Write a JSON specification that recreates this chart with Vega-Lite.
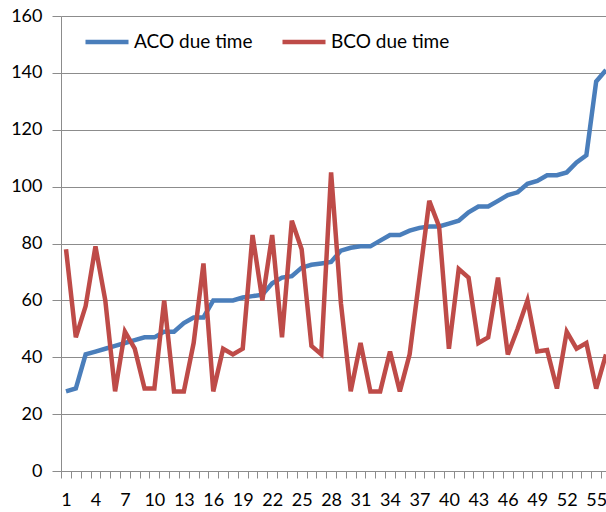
{
  "$schema": "https://vega.github.io/schema/vega-lite/v6.json",
  "autosize": {"type": "none"},
  "padding": {"left": 61, "top": 16, "right": 0, "bottom": 41},
  "width": 545,
  "height": 455,
  "background": "white",
  "config": {
    "view": {"stroke": null},
    "font": "Lato"
  },
  "data": {
    "values": [
      {"x":1,"s":"ACO due time","v":28},{"x":2,"s":"ACO due time","v":29},{"x":3,"s":"ACO due time","v":41},{"x":4,"s":"ACO due time","v":42},{"x":5,"s":"ACO due time","v":43},{"x":6,"s":"ACO due time","v":44},{"x":7,"s":"ACO due time","v":45},{"x":8,"s":"ACO due time","v":46},{"x":9,"s":"ACO due time","v":47},{"x":10,"s":"ACO due time","v":47},
      {"x":11,"s":"ACO due time","v":49},{"x":12,"s":"ACO due time","v":49},{"x":13,"s":"ACO due time","v":52},{"x":14,"s":"ACO due time","v":54},{"x":15,"s":"ACO due time","v":54},{"x":16,"s":"ACO due time","v":60},{"x":17,"s":"ACO due time","v":60},{"x":18,"s":"ACO due time","v":60},{"x":19,"s":"ACO due time","v":61},{"x":20,"s":"ACO due time","v":61.5},
      {"x":21,"s":"ACO due time","v":62},{"x":22,"s":"ACO due time","v":66},{"x":23,"s":"ACO due time","v":68},{"x":24,"s":"ACO due time","v":68.5},{"x":25,"s":"ACO due time","v":71.5},{"x":26,"s":"ACO due time","v":72.5},{"x":27,"s":"ACO due time","v":73},{"x":28,"s":"ACO due time","v":73.5},{"x":29,"s":"ACO due time","v":77.5},{"x":30,"s":"ACO due time","v":78.5},
      {"x":31,"s":"ACO due time","v":79},{"x":32,"s":"ACO due time","v":79},{"x":33,"s":"ACO due time","v":81},{"x":34,"s":"ACO due time","v":83},{"x":35,"s":"ACO due time","v":83},{"x":36,"s":"ACO due time","v":84.5},{"x":37,"s":"ACO due time","v":85.5},{"x":38,"s":"ACO due time","v":86},{"x":39,"s":"ACO due time","v":86},{"x":40,"s":"ACO due time","v":87},
      {"x":41,"s":"ACO due time","v":88},{"x":42,"s":"ACO due time","v":91},{"x":43,"s":"ACO due time","v":93},{"x":44,"s":"ACO due time","v":93},{"x":45,"s":"ACO due time","v":95},{"x":46,"s":"ACO due time","v":97},{"x":47,"s":"ACO due time","v":98},{"x":48,"s":"ACO due time","v":101},{"x":49,"s":"ACO due time","v":102},{"x":50,"s":"ACO due time","v":104},
      {"x":51,"s":"ACO due time","v":104},{"x":52,"s":"ACO due time","v":105},{"x":53,"s":"ACO due time","v":108.5},{"x":54,"s":"ACO due time","v":111},{"x":55,"s":"ACO due time","v":137},{"x":56,"s":"ACO due time","v":141},
      {"x":1,"s":"BCO due time","v":78},{"x":2,"s":"BCO due time","v":47},{"x":3,"s":"BCO due time","v":58},{"x":4,"s":"BCO due time","v":79},{"x":5,"s":"BCO due time","v":60},{"x":6,"s":"BCO due time","v":28},{"x":7,"s":"BCO due time","v":49},{"x":8,"s":"BCO due time","v":43},{"x":9,"s":"BCO due time","v":29},{"x":10,"s":"BCO due time","v":29},
      {"x":11,"s":"BCO due time","v":60},{"x":12,"s":"BCO due time","v":28},{"x":13,"s":"BCO due time","v":28},{"x":14,"s":"BCO due time","v":45},{"x":15,"s":"BCO due time","v":73},{"x":16,"s":"BCO due time","v":28},{"x":17,"s":"BCO due time","v":43},{"x":18,"s":"BCO due time","v":41},{"x":19,"s":"BCO due time","v":43},{"x":20,"s":"BCO due time","v":83},
      {"x":21,"s":"BCO due time","v":60},{"x":22,"s":"BCO due time","v":83},{"x":23,"s":"BCO due time","v":47},{"x":24,"s":"BCO due time","v":88},{"x":25,"s":"BCO due time","v":78},{"x":26,"s":"BCO due time","v":44},{"x":27,"s":"BCO due time","v":41},{"x":28,"s":"BCO due time","v":105},{"x":29,"s":"BCO due time","v":59},{"x":30,"s":"BCO due time","v":28},
      {"x":31,"s":"BCO due time","v":45},{"x":32,"s":"BCO due time","v":28},{"x":33,"s":"BCO due time","v":28},{"x":34,"s":"BCO due time","v":42},{"x":35,"s":"BCO due time","v":28},{"x":36,"s":"BCO due time","v":41},{"x":37,"s":"BCO due time","v":68},{"x":38,"s":"BCO due time","v":95},{"x":39,"s":"BCO due time","v":86},{"x":40,"s":"BCO due time","v":43},
      {"x":41,"s":"BCO due time","v":71},{"x":42,"s":"BCO due time","v":68},{"x":43,"s":"BCO due time","v":45},{"x":44,"s":"BCO due time","v":47},{"x":45,"s":"BCO due time","v":68},{"x":46,"s":"BCO due time","v":41},{"x":47,"s":"BCO due time","v":50},{"x":48,"s":"BCO due time","v":60},{"x":49,"s":"BCO due time","v":42},{"x":50,"s":"BCO due time","v":42.5},
      {"x":51,"s":"BCO due time","v":29},{"x":52,"s":"BCO due time","v":49},{"x":53,"s":"BCO due time","v":43},{"x":54,"s":"BCO due time","v":45},{"x":55,"s":"BCO due time","v":29},{"x":56,"s":"BCO due time","v":41}
    ]
  },
  "mark": {"type": "line", "strokeWidth": 4.5, "clip": true, "strokeJoin": "miter", "strokeCap": "butt"},
  "encoding": {
    "x": {
      "field": "x", "type": "quantitative",
      "scale": {"domain": [0.49, 56.0], "nice": false, "zero": false},
      "axis": {
        "title": null,
        "values": [0.5,1.5,2.5,3.5,4.5,5.5,6.5,7.5,8.5,9.5,10.5,11.5,12.5,13.5,14.5,15.5,16.5,17.5,18.5,19.5,20.5,21.5,22.5,23.5,24.5,25.5,26.5,27.5,28.5,29.5,30.5,31.5,32.5,33.5,34.5,35.5,36.5,37.5,38.5,39.5,40.5,41.5,42.5,43.5,44.5,45.5,46.5,47.5,48.5,49.5,50.5,51.5,52.5,53.5,54.5,55.5],
        "labelExpr": "(datum.value - 0.5) % 3 == 0 ? format(datum.value + 0.5, 'd') : ''",
        "labelOffset": 4.9,
        "labelOverlap": false,
        "labelBound": false,
        "labelFlush": false,
        "labelFont": "Lato",
        "labelFontSize": 18,
        "labelColor": "#000000",
        "labelPadding": 13,
        "tickSize": 7,
        "tickColor": "#8c8c8c",
        "domainColor": "#8c8c8c",
        "grid": false
      }
    },
    "y": {
      "field": "v", "type": "quantitative",
      "scale": {"domain": [0, 160], "nice": false},
      "axis": {
        "title": null,
        "values": [0,20,40,60,80,100,120,140,160],
        "labelFont": "Lato",
        "labelFontSize": 18,
        "labelColor": "#000000",
        "labelPadding": 10,
        "tickSize": 9,
        "tickColor": "#8c8c8c",
        "domainColor": "#8c8c8c",
        "gridColor": "#8c8c8c",
        "grid": true
      }
    },
    "color": {
      "field": "s", "type": "nominal",
      "scale": {"domain": ["ACO due time", "BCO due time"], "range": ["#4a7ebb", "#be4b48"]},
      "legend": {
        "title": null,
        "orient": "none",
        "direction": "horizontal",
        "legendX": 22,
        "legendY": 2,
        "symbolType": "stroke",
        "symbolSize": 1850,
        "symbolStrokeWidth": 4.5,
        "labelFont": "Lato",
        "labelFontSize": 19,
        "labelColor": "#000000",
        "labelOffset": 3,
        "columnPadding": 20
      }
    }
  }
}
